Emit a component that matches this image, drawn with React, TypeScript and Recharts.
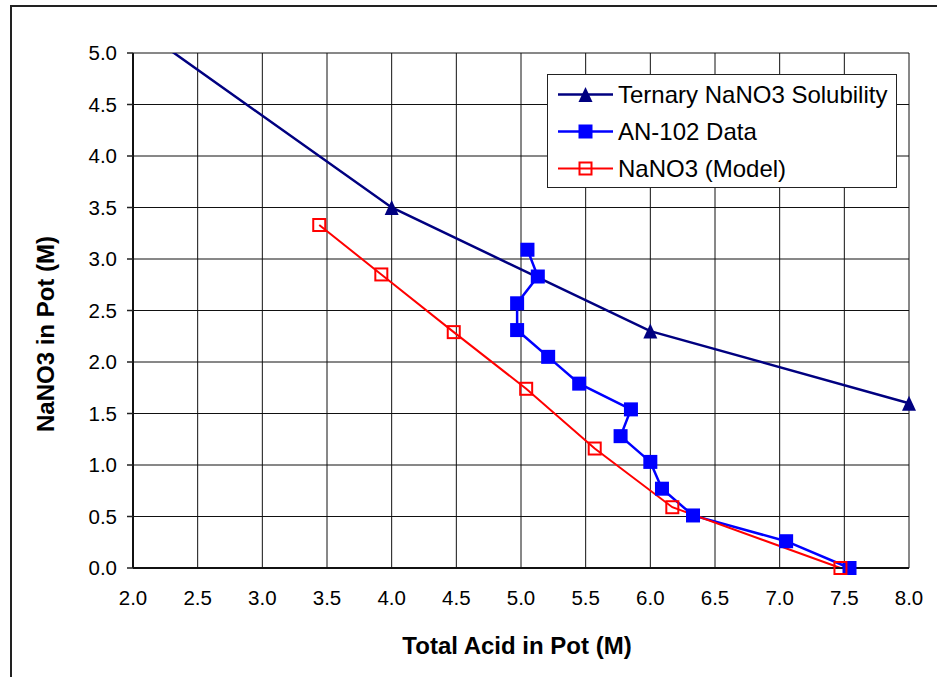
import React from 'react';
import { ComposedChart, Line, Scatter, XAxis, YAxis, CartesianGrid, Legend, Label } from 'recharts';

// tick labels
const xTicks = [2.0, 2.5, 3.0, 3.5, 4.0, 4.5, 5.0, 5.5, 6.0, 6.5, 7.0, 7.5, 8.0];
const yTicks = [0.0, 0.5, 1.0, 1.5, 2.0, 2.5, 3.0, 3.5, 4.0, 4.5, 5.0];

// series values
const ternaryAcid = [2.25, 4.0, 6.0, 8.0];
const ternaryNaNO3 = [5.06, 3.5, 2.3, 1.6];

const an102Acid = [5.05, 5.13, 4.97, 4.97, 5.21, 5.45, 5.85, 5.77, 6.0, 6.09, 6.33, 7.05, 7.54];
const an102NaNO3 = [3.09, 2.83, 2.57, 2.31, 2.05, 1.79, 1.54, 1.28, 1.03, 0.77, 0.51, 0.26, 0.0];

const modelAcid = [3.44, 3.92, 4.48, 5.04, 5.57, 6.17, 7.47];
const modelNaNO3 = [3.33, 2.85, 2.29, 1.74, 1.16, 0.59, 0.0];

const toPoints = (xs: number[], ys: number[]) => xs.map((x, i) => ({ x, y: ys[i] }));

const ternaryData = toPoints(ternaryAcid, ternaryNaNO3);
const ternaryMarks = ternaryData.filter((p) => p.y <= 5);
const an102Data = toPoints(an102Acid, an102NaNO3);
const modelData = toPoints(modelAcid, modelNaNO3);

// minor ticks, four between each pair of labelled ticks
const minorOf = (major: number[]) => {
  const out: number[] = [];
  for (let i = 0; i < major.length - 1; i++) {
    const step = (major[i + 1] - major[i]) / 5;
    for (let k = 1; k < 5; k++) out.push(+(major[i] + step * k).toFixed(2));
  }
  return out;
};
const xMinor = minorOf(xTicks);
const yMinor = minorOf(yTicks);

const NAVY = '#000080';
const BLUE = '#0000FF';
const RED = '#FF0000';
const FONT = '"Liberation Sans", Arial, sans-serif';

const TriangleMark = ({ cx, cy }: any) => (
  <polygon points={`${cx},${cy - 7.5} ${cx + 7},${cy + 7.5} ${cx - 7},${cy + 7.5}`} fill={NAVY} />
);
const FilledSquare = ({ cx, cy }: any) => <rect x={cx - 7} y={cy - 7} width={14} height={14} fill={BLUE} />;
const HollowSquare = ({ cx, cy }: any) => (
  <rect x={cx - 6} y={cy - 6} width={12} height={12} fill="none" stroke={RED} strokeWidth={2} />
);

const legendItems = [
  { name: 'Ternary NaNO3 Solubility', color: NAVY, width: 2.5, Mark: TriangleMark },
  { name: 'AN-102 Data', color: BLUE, width: 2.5, Mark: FilledSquare },
  { name: 'NaNO3 (Model)', color: RED, width: 2, Mark: HollowSquare },
];

const LegendBox = () => (
  <div
    style={{
      width: 350,
      height: 114,
      boxSizing: 'border-box',
      border: '1px solid #222',
      background: '#fff',
      paddingTop: 1,
    }}
  >
    {legendItems.map((it) => (
      <div key={it.name} style={{ display: 'flex', alignItems: 'center', height: 37 }}>
        <svg width={70} height={37} style={{ flex: 'none' }}>
          <line x1={10} x2={65} y1={18.5} y2={18.5} stroke={it.color} strokeWidth={it.width} />
          <it.Mark cx={37.5} cy={18.5} />
        </svg>
        <span style={{ fontFamily: FONT, fontSize: 24, color: '#000', whiteSpace: 'nowrap' }}>{it.name}</span>
      </div>
    ))}
  </div>
);

const tickStyle = { fill: '#000', fontSize: 20.5, fontFamily: FONT };

const App = () => {
  return (
    <div
      style={{
        position: 'absolute',
        left: 0,
        top: 0,
        width: 937,
        height: 677,
        overflow: 'hidden',
        background: '#fff',
      }}
    >
      <div
        style={{
          position: 'absolute',
          left: 10,
          top: 5,
          width: 1000,
          height: 1000,
          border: '2px solid #222',
        }}
      />
      <div style={{ position: 'absolute', left: 0, top: 0 }}>
        <ComposedChart width={937} height={677} margin={{ top: 53, right: 28, left: 13, bottom: 19 }}>
          <CartesianGrid stroke="#111" strokeWidth={1} />
          <XAxis
            type="number"
            dataKey="x"
            domain={[2, 8]}
            ticks={xTicks}
            interval={0}
            tickFormatter={(v: number) => v.toFixed(1)}
            tick={tickStyle}
            fontSize={20.5}
            tickLine={false}
            tickSize={0}
            tickMargin={22}
            axisLine={{ stroke: '#111', strokeWidth: 2 }}
            height={90}
          >
            <Label
              content={() => (
                <text x={517} y={654} textAnchor="middle" fontFamily={FONT} fontSize={24} fontWeight="bold" fill="#000">
                  Total Acid in Pot (M)
                </text>
              )}
            />
          </XAxis>
          <YAxis
            type="number"
            dataKey="y"
            domain={[0, 5]}
            ticks={yTicks}
            interval={0}
            tickFormatter={(v: number) => v.toFixed(1)}
            tick={tickStyle}
            fontSize={20.5}
            tickLine={{ stroke: '#222', strokeWidth: 1.5 }}
            tickSize={6}
            tickMargin={10}
            axisLine={{ stroke: '#111', strokeWidth: 2 }}
            width={120}
          >
            <Label
              content={() => (
                <text
                  x={45}
                  y={334}
                  transform="rotate(-90 45 334)"
                  textAnchor="middle"
                  dominantBaseline="central"
                  fontFamily={FONT}
                  fontSize={24}
                  fontWeight="bold"
                  fill="#000"
                >
                  NaNO3 in Pot (M)
                </text>
              )}
            />
          </YAxis>
          <XAxis
            xAxisId="minor"
            type="number"
            domain={[2, 8]}
            allowDataOverflow
            ticks={xMinor}
            interval={0}
            mirror
            tick={false}
            tickSize={5}
            tickLine={{ stroke: '#111', strokeWidth: 1 }}
            axisLine={false}
          />
          <YAxis
            yAxisId="minor"
            type="number"
            domain={[0, 5]}
            allowDataOverflow
            ticks={yMinor}
            interval={0}
            mirror
            tick={false}
            tickSize={5}
            tickLine={{ stroke: '#111', strokeWidth: 1 }}
            axisLine={false}
          />
          <YAxis yAxisId="over" type="number" dataKey="y" domain={[0, 5]} allowDataOverflow hide />
          <Legend
            layout="horizontal"
            verticalAlign="middle"
            align="center"
            wrapperStyle={{ left: 547, top: 74, width: 350, height: 114 }}
            content={() => <LegendBox />}
          />
          <Line
            yAxisId="over"
            data={ternaryData}
            dataKey="y"
            name="Ternary NaNO3 Solubility"
            type="linear"
            stroke={NAVY}
            strokeWidth={2.5}
            dot={false}
            activeDot={false}
            isAnimationActive={false}
          />
          <Scatter
            data={ternaryMarks}
            dataKey="y"
            name="Ternary NaNO3 Solubility marks"
            fill={NAVY}
            shape={(p: any) => <TriangleMark cx={p.cx} cy={p.cy} />}
            isAnimationActive={false}
          />
          <Line
            data={an102Data}
            dataKey="y"
            name="AN-102 Data"
            type="linear"
            stroke={BLUE}
            strokeWidth={2.5}
            dot={(p: any) => <FilledSquare key={`a${p.index}`} cx={p.cx} cy={p.cy} />}
            activeDot={false}
            isAnimationActive={false}
          />
          <Line
            data={modelData}
            dataKey="y"
            name="NaNO3 (Model)"
            type="linear"
            stroke={RED}
            strokeWidth={2}
            dot={(p: any) => <HollowSquare key={`m${p.index}`} cx={p.cx} cy={p.cy} />}
            activeDot={false}
            isAnimationActive={false}
          />
        </ComposedChart>
      </div>
    </div>
  );
};

export default App;
